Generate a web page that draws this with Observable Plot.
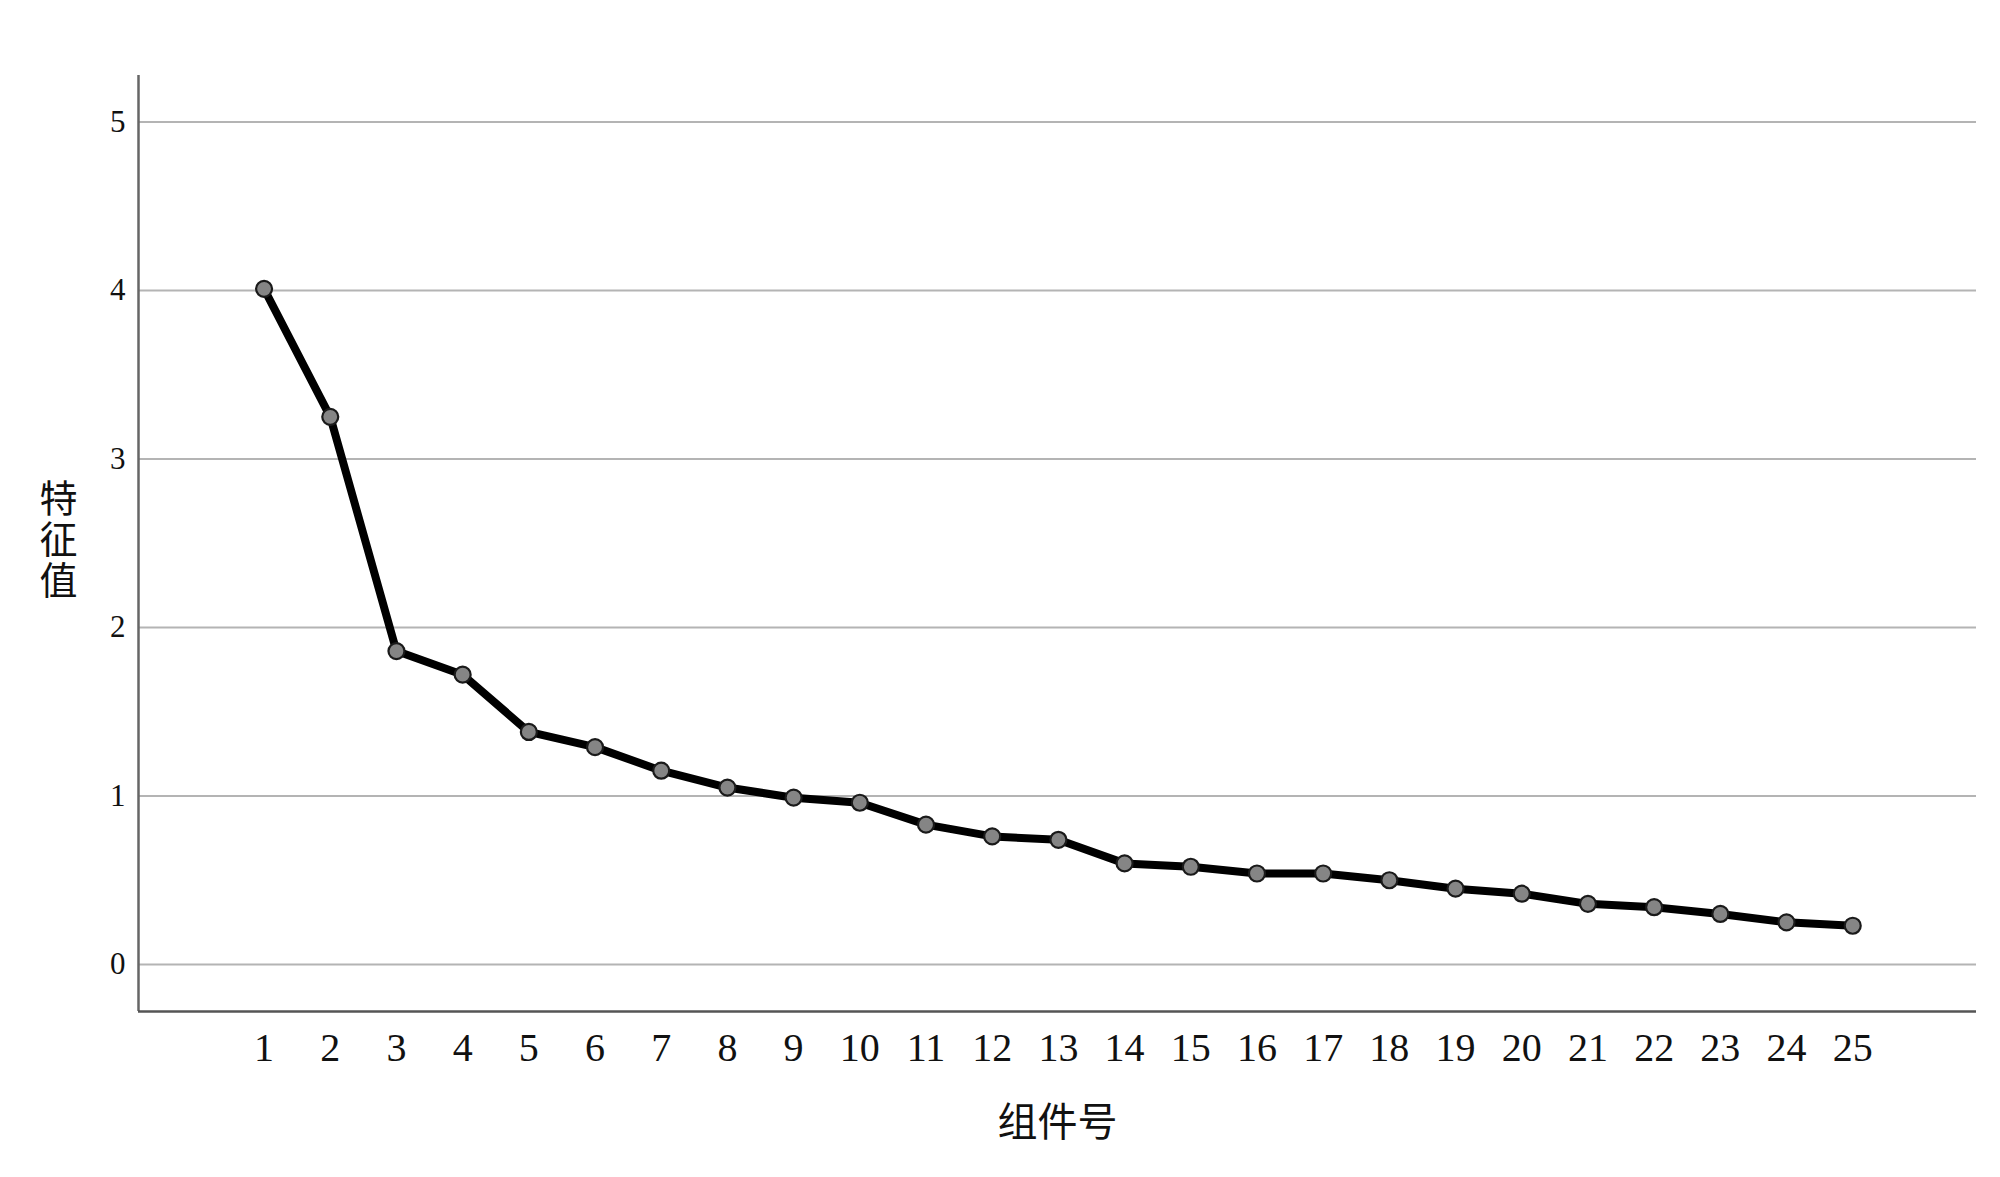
<!DOCTYPE html>
<html>
<head>
<meta charset="utf-8">
<script src="https://cdn.jsdelivr.net/npm/d3@7"></script>
<script src="https://cdn.jsdelivr.net/npm/@observablehq/plot@0.6"></script>
<style>
  html, body { margin: 0; padding: 0; background: #fff; }
</style>
</head>
<body>
<div id="chart"></div>
<script>
const components = [1,2,3,4,5,6,7,8,9,10,11,12,13,14,15,16,17,18,19,20,21,22,23,24,25];
const eigenvalues = [4.01,3.25,1.86,1.72,1.38,1.29,1.15,1.05,0.99,0.96,0.83,0.76,0.74,0.60,0.58,0.54,0.54,0.50,0.45,0.42,0.36,0.34,0.30,0.25,0.23];
const yTicks = [0,1,2,3,4,5];
const xTitle = "组件号";
const yTitle = "特征值";

const data = components.map((c, i) => ({component: c, value: eigenvalues[i]}));
const xDomain = [-0.897, 26.87];
const yDomain = [-0.279, 5.276];

const serif = "'Liberation Serif', 'Times New Roman', serif";
const cjk = "'Noto Sans CJK SC', sans-serif";

const chart = Plot.plot({
  width: 2000,
  height: 1177,
  marginLeft: 138,
  marginRight: 24,
  marginTop: 75,
  marginBottom: 166,
  style: {fontFamily: serif, background: "#fff", color: "#111"},
  x: {domain: xDomain},
  y: {domain: yDomain},
  marks: [
    Plot.ruleY(yTicks, {stroke: "#b4b4b4", strokeWidth: 2.2}),
    Plot.ruleX([xDomain[0]], {stroke: "#666", strokeWidth: 2.5}),
    Plot.ruleY([yDomain[0]], {stroke: "#555", strokeWidth: 2.5}),
    Plot.axisY(yTicks, {tickSize: 0, tickPadding: 13, fontSize: 31, label: null, fill: "#111", tickFormat: "d"}),
    Plot.axisX(components, {tickSize: 0, tickPadding: 21, fontSize: 40, label: null, fill: "#111", tickFormat: "d"}),
    Plot.line(data, {x: "component", y: "value", stroke: "#000", strokeWidth: 8, strokeLinejoin: "round"}),
    Plot.dot(data, {x: "component", y: "value", r: 8, fill: "#858585", stroke: "#1a1a1a", strokeWidth: 2.2}),
    Plot.text([xTitle], {frameAnchor: "bottom", lineAnchor: "middle", dy: 112, fontSize: 40, fontFamily: cjk, fill: "#111"}),
    Plot.text([yTitle], {frameAnchor: "left", textAnchor: "middle", dx: -80, dy: -16, fontSize: 38, fontFamily: cjk, fill: "#111"})
  ]
});

// Stack the y-axis title vertically (upright CJK characters), as in the reference.
chart.querySelectorAll("text").forEach(t => {
  if (t.textContent === yTitle) {
    t.removeAttribute("dy");
    t.style.writingMode = "vertical-rl";
    t.style.letterSpacing = "3px";
  }
});
document.getElementById("chart").appendChild(chart);
</script>
</body>
</html>
